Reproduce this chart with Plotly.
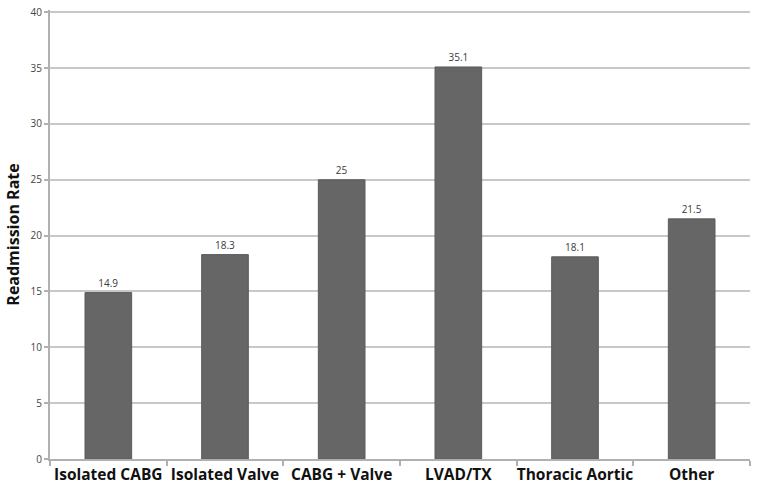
import plotly.graph_objects as go

categories = ["Isolated CABG", "Isolated Valve", "CABG + Valve", "LVAD/TX", "Thoracic Aortic", "Other"]
values = [14.9, 18.3, 25, 35.1, 18.1, 21.5]
value_labels = ["14.9", "18.3", "25", "35.1", "18.1", "21.5"]
y_ticks = [0, 5, 10, 15, 20, 25, 30, 35, 40]

fig = go.Figure()
fig.add_trace(go.Bar(
    x=categories, y=values,
    text=value_labels, textposition="outside",
    textfont=dict(size=10, color="#3a3a3a", family="Open Sans"),
    marker=dict(color="#666666", line=dict(color="#5c5c5c", width=1)),
    cliponaxis=False,
))
fig.update_layout(
    width=762, height=499,
    margin=dict(l=50, r=12, t=10, b=40, autoexpand=False),
    paper_bgcolor="white", plot_bgcolor="white",
    bargap=0.6,
    showlegend=False,
    font=dict(family="Open Sans", color="#333333"),
)
fig.update_xaxes(
    automargin=False, tickangle=0,
    showline=True, linecolor="#b0b0b0", linewidth=2,
    ticks="outside", tickson="boundaries", ticklen=5, tickcolor="#b0b0b0", tickwidth=2,
    tickfont=dict(size=15.5, color="#111111", family="Open Sans", weight="bold"),
    showgrid=False,
)
fig.update_yaxes(
    automargin=False,
    range=[0, 40.2], tickvals=y_ticks,
    showline=True, linecolor="#b0b0b0", linewidth=2,
    ticks="outside", ticklen=4, tickcolor="#b0b0b0", tickwidth=2,
    showgrid=True, gridcolor="#c8c8c8", gridwidth=2,
    tickfont=dict(size=10, color="#444444"),
    title=dict(text="Readmission Rate", font=dict(size=16, color="#111111", weight="bold"), standoff=7),
    zeroline=False,
)
fig.write_html("out.html", config={"displayModeBar": False},
               post_script="document.body.style.margin='0';")
